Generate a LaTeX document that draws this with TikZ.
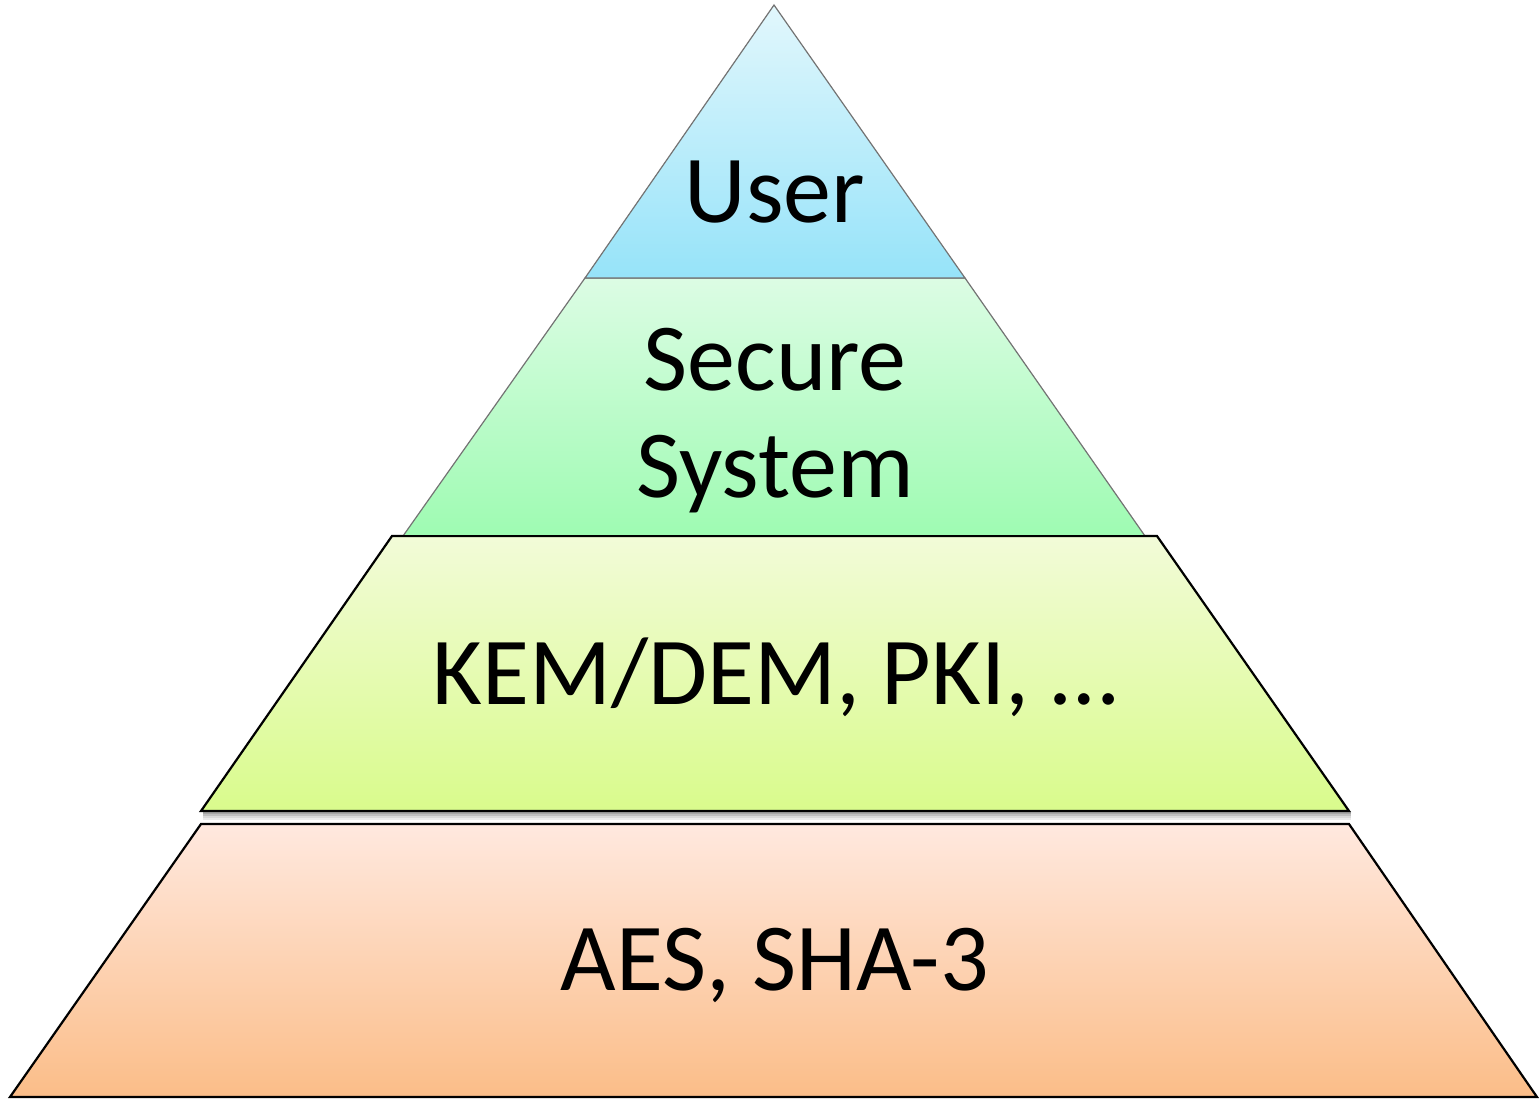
\documentclass[tikz,border=0pt]{standalone}
\usepackage{fontspec}
\setmainfont{Carlito}
\begin{document}
\begin{tikzpicture}[x=0.5pt,y=-0.5pt,
  thinedge/.style={draw=black!55,line width=0.6pt,line join=miter},
  boldedge/.style={draw=black,line width=1.1pt,line join=miter},
  label/.style={font=\fontsize{48}{53.5}\selectfont,anchor=base,inner sep=0pt,align=center}]
\useasboundingbox (0,0) rectangle (1539,1100);

% bottom layer: primitives
\shade[top color=orange!8!white!95!red, bottom color={rgb,255:red,251;green,189;blue,136}]
  (201,824) -- (1349,824) -- (1537,1097) -- (10,1097) -- cycle;
\draw[boldedge] (201,824) -- (1349,824) -- (1537,1097) -- (10,1097) -- cycle;

% soft shadow below the third layer
\foreach \o/\op in {2/0.35,4/0.25,6/0.15,8/0.08}
  \draw[black,opacity=\op,line width=1pt] (203,811+\o) -- (1351,811+\o);

% third layer: protocols
\shade[top color={rgb,255:red,242;green,251;blue,216}, bottom color={rgb,255:red,217;green,251;blue,140}]
  (392,536) -- (1157,536) -- (1349,811) -- (201,811) -- cycle;
\draw[boldedge] (392,536) -- (1157,536) -- (1349,811) -- (201,811) -- cycle;

% second layer: secure system
\shade[top color={rgb,255:red,220;green,252;blue,228}, bottom color={rgb,255:red,158;green,251;blue,178}]
  (585,278) -- (965,278) -- (1145,536) -- (403,536) -- cycle;
\draw[thinedge] (403,536) -- (585,278) -- (965,278) -- (1145,536);
\draw[boldedge] (392,536) -- (1157,536);

% top layer: user
\shade[top color={rgb,255:red,226;green,247;blue,252}, bottom color={rgb,255:red,150;green,227;blue,249}]
  (774,5) -- (965,278) -- (585,278) -- cycle;
\draw[thinedge] (774,5) -- (965,278) -- (585,278) -- cycle;

% layer captions
\node[label] (user) at (775,222) {User};
\node[label] (secure) at (775,390) {Secure};
\node[label] (system) at (775,497) {System};
\node[label] (proto) at (775,704) {KEM/DEM, PKI, …};
\node[label] (prim) at (775,990) {AES, SHA-3};
\end{tikzpicture}
\end{document}
